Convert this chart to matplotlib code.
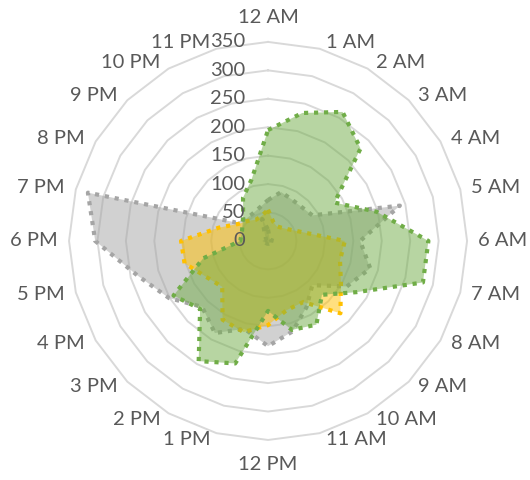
import matplotlib
matplotlib.use("Agg")
import matplotlib.pyplot as plt
import numpy as np

plt.rcParams["font.family"] = ["Lato", "DejaVu Sans"]

hours = ["12 AM", "1 AM", "2 AM", "3 AM", "4 AM", "5 AM", "6 AM", "7 AM",
         "8 AM", "9 AM", "10 AM", "11 AM", "12 PM", "1 PM", "2 PM", "3 PM",
         "4 PM", "5 PM", "6 PM", "7 PM", "8 PM", "9 PM", "10 PM", "11 PM"]

blue = [20, 8, 5, 5, 5, 5, 10, 8, 5, 5, 5, 5,
        5, 5, 5, 5, 5, 8, 10, 8, 5, 5, 10, 40]
gray = [72, 89, 84, 84, 90, 240, 162, 186, 160, 110, 135, 165,
        185, 160, 187, 164, 201, 237, 304, 328, 65, 55, 55, 60]
yellow = [55, 35, 30, 33, 41, 61, 135, 131, 148, 180, 124, 126,
          148, 166, 160, 114, 126, 152, 153, 90, 60, 50, 43, 45]
green = [195, 233, 262, 230, 135, 198, 282, 282, 180, 134, 170, 162,
         123, 223, 244, 169, 192, 118, 49, 48, 52, 62, 88, 112]

series = [(blue, "#4472C4"), (gray, "#A5A5A5"),
          (yellow, "#FFC000"), (green, "#70AD47")]

rings = np.arange(0, 351, 50)

theta = np.deg2rad(np.arange(len(hours)) * 360 / len(hours))


def to_xy(vals):
    vals = np.asarray(vals, dtype=float)
    x = vals * np.sin(theta)
    y = vals * np.cos(theta)
    return np.append(x, x[0]), np.append(y, y[0])


fig = plt.figure(figsize=(5.3, 4.8), dpi=100)
ax = fig.add_axes([40.6 / 530, 11.6 / 480, 454.9 / 530, 454.9 / 480])
ax.set_xlim(-400, 400)
ax.set_ylim(-400, 400)
ax.set_aspect("equal")
ax.axis("off")

# polygon grid rings
for r in rings[1:]:
    gx, gy = to_xy([r] * len(hours))
    ax.plot(gx, gy, color="#D9D9D9", lw=1.4, zorder=1)

# series: fill then dotted border, later series on top
for i, (vals, col) in enumerate(series):
    x, y = to_xy(vals)
    ax.fill(x, y, color=col, alpha=0.5, lw=0, zorder=2 + 2 * i)
    ax.plot(x, y, color=col, lw=3.0, linestyle=(0, (1, 1.4)),
            dash_capstyle="butt", solid_joinstyle="miter", zorder=3 + 2 * i)

# radial value labels up the 12 AM spoke
for r in rings:
    ax.text(-40, r, str(r), ha="right", va="center", fontsize=14.5,
            color="#595959", zorder=20)

# hour labels: anchored just outside the outer ring, pushed away sideways
anchor = 362
for lab, t in zip(hours, theta):
    s, c = np.sin(t), np.cos(t)
    if abs(s) < 1e-6:
        ha = "center"
        va = "bottom" if c > 0 else "top"
        pos = (0, (anchor + 16) * np.sign(c))
    else:
        ha = "left" if s > 0 else "right"
        va = "center"
        pos = (anchor * s + 8 * np.sign(s), anchor * c)
    ax.text(pos[0], pos[1], lab, ha=ha, va=va, fontsize=14.5,
            color="#595959", clip_on=False)

fig.savefig("out.png", dpi=100)
